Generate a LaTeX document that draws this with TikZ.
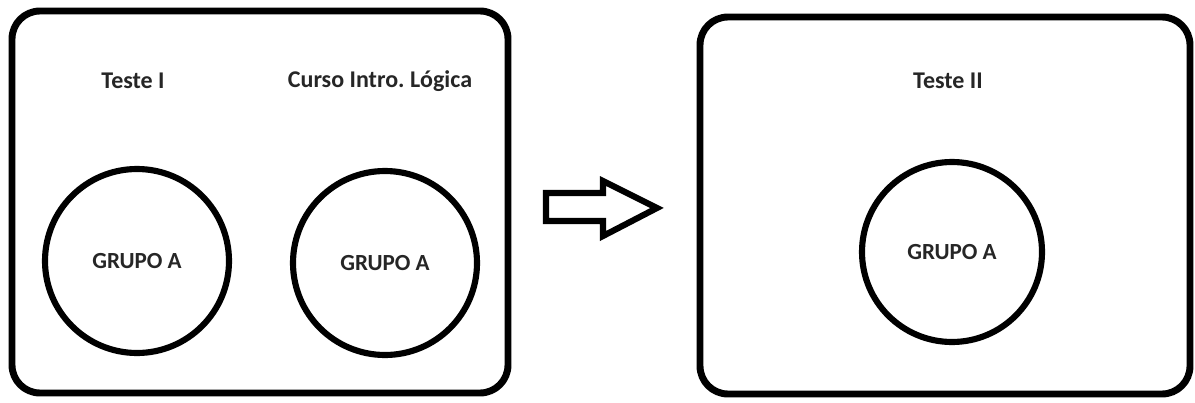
\documentclass[tikz,border=0pt]{standalone}
\usepackage{fontspec}
\setmainfont{Carlito}
\frenchspacing
\begin{document}
\begin{tikzpicture}[x=0.75pt,y=-0.75pt,
  panel/.style={draw=black, line width=5.2pt, rounded corners=21pt, inner sep=0pt},
  group/.style={draw=black, line width=4.6pt, circle, inner sep=0pt, font=\bfseries\fontsize{17.3}{20}\selectfont, text=black!85},
  title/.style={font=\bfseries\fontsize{18}{22}\selectfont, text=black!85, inner sep=0pt}]
\useasboundingbox (0,0) rectangle (1195,403);
\fill[white] (0,0) rectangle (1195,403);
% panels
\node[panel, minimum width=372pt, minimum height=286.5pt] (left) at (260,202) {};
\node[panel, minimum width=367.5pt, minimum height=282.75pt] (right) at (945,205.5) {};
% titles
\node[title] (t1) at (133,81) {Teste I};
\node[title] (t2) at (380,81) {Curso Intro. Lógica};
\node[title] (t3) at (948,81) {Teste II};
% circles
\node[group, minimum size=138pt] (g1) at (137,261) {GRUPO A};
\node[group, minimum size=138pt] (g2) at (385,263) {GRUPO A};
\node[group, minimum size=135pt] (g3) at (952,252) {GRUPO A};
% arrow
\draw[line width=4.6pt, line join=miter]
  (546,193) -- (603,193) -- (603,181) -- (657,208) -- (603,236) -- (603,221) -- (546,221) -- cycle;
\end{tikzpicture}
\end{document}
